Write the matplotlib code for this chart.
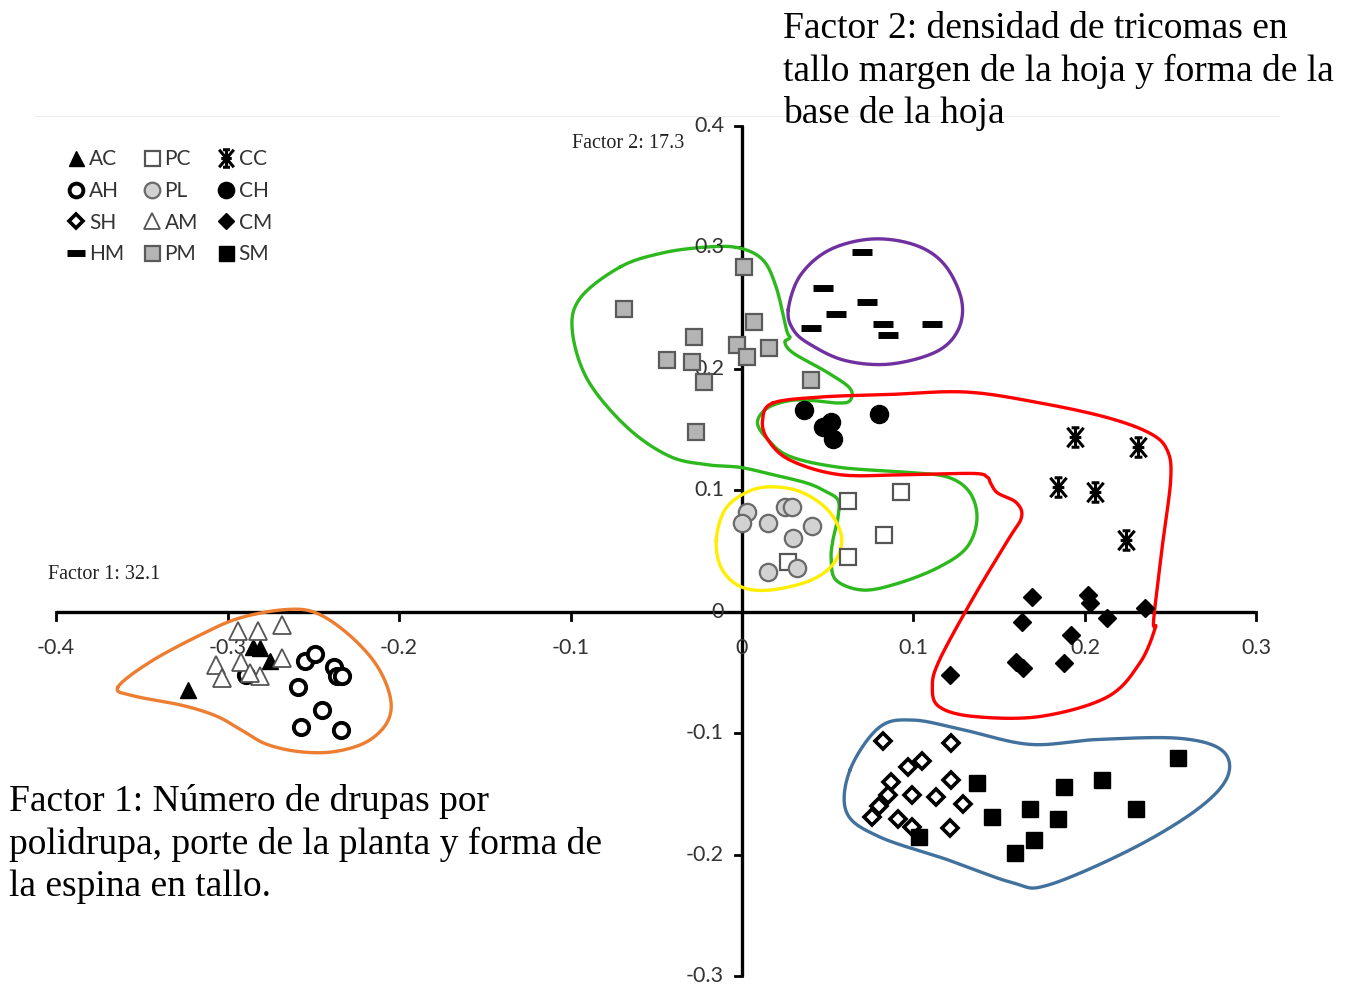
import numpy as np
import matplotlib
matplotlib.use("Agg")
import matplotlib.pyplot as plt
from matplotlib.path import Path
from matplotlib.lines import Line2D

# ---------------- data (factor scores) ----------------
AC_x = [-0.323, -0.285, -0.281, -0.275]
AC_y = [-0.064, -0.029, -0.030, -0.040]
AM_x = [-0.268, -0.294, -0.282, -0.268, -0.307, -0.292, -0.303, -0.281, -0.287]
AM_y = [-0.011, -0.016, -0.016, -0.038, -0.044, -0.041, -0.054, -0.053, -0.050]
AH_x = [-0.289, -0.255, -0.249, -0.238, -0.236, -0.233, -0.259, -0.245, -0.257, -0.234]
AH_y = [-0.052, -0.040, -0.035, -0.045, -0.053, -0.053, -0.062, -0.081, -0.095, -0.097]
PM_x = [-0.069, 0.001, -0.028, -0.044, -0.029, -0.022, -0.027, -0.003, 0.007, 0.003, 0.016, 0.040]
PM_y = [0.249, 0.284, 0.226, 0.207, 0.206, 0.189, 0.148, 0.220, 0.239, 0.210, 0.217, 0.191]
CH_x = [0.036, 0.047, 0.052, 0.053, 0.080]
CH_y = [0.166, 0.152, 0.156, 0.142, 0.163]
HM_x = [0.070, 0.047, 0.073, 0.055, 0.040, 0.082, 0.085, 0.111]
HM_y = [0.296, 0.267, 0.255, 0.245, 0.234, 0.237, 0.228, 0.237]
PL_x = [0.003, 0.000, 0.015, 0.025, 0.029, 0.041, 0.030, 0.015, 0.032]
PL_y = [0.082, 0.073, 0.073, 0.086, 0.086, 0.071, 0.061, 0.033, 0.036]
PC_x = [0.062, 0.093, 0.083, 0.062, 0.027]
PC_y = [0.091, 0.099, 0.063, 0.045, 0.041]
CC_x = [0.194, 0.231, 0.184, 0.206, 0.224]
CC_y = [0.144, 0.136, 0.103, 0.099, 0.059]
CM_x = [0.169, 0.202, 0.203, 0.163, 0.213, 0.235, 0.192, 0.160, 0.164, 0.188, 0.121]
CM_y = [0.012, 0.014, 0.007, -0.008, -0.005, 0.003, -0.019, -0.041, -0.046, -0.042, -0.052]
SH_x = [0.082, 0.122, 0.097, 0.105, 0.087, 0.122, 0.085, 0.099, 0.113, 0.129, 0.080, 0.076, 0.091, 0.099, 0.121]
SH_y = [-0.106, -0.108, -0.128, -0.123, -0.140, -0.138, -0.151, -0.151, -0.152, -0.158, -0.160, -0.169, -0.170, -0.177, -0.178]
SM_x = [0.137, 0.146, 0.168, 0.188, 0.210, 0.254, 0.184, 0.230, 0.170, 0.159, 0.103]
SM_y = [-0.141, -0.169, -0.162, -0.144, -0.138, -0.120, -0.170, -0.162, -0.188, -0.198, -0.185]

x_ticks = [-0.4, -0.3, -0.2, -0.1, 0, 0.1, 0.2, 0.3]
x_tick_labels = ["-0.4", "-0.3", "-0.2", "-0.1", "0", "0.1", "0.2", "0.3"]
y_ticks = [-0.3, -0.2, -0.1, 0, 0.1, 0.2, 0.3, 0.4]
y_tick_labels = ["-0.3", "-0.2", "-0.1", "0", "0.1", "0.2", "0.3", "0.4"]

# group outlines (hand-drawn envelopes in factor space)
orange_x = [-0.364, -0.345, -0.316, -0.293, -0.266, -0.248, -0.229, -0.213, -0.205, -0.207, -0.219, -0.238, -0.258, -0.277, -0.291, -0.306, -0.326, -0.355]
orange_y = [-0.062, -0.041, -0.019, -0.005, 0.002, -0.001, -0.019, -0.044, -0.071, -0.091, -0.107, -0.115, -0.115, -0.109, -0.098, -0.086, -0.077, -0.069]
purple_x = [0.027, 0.034, 0.051, 0.076, 0.101, 0.118, 0.128, 0.126, 0.113, 0.086, 0.060, 0.040, 0.030]
purple_y = [0.249, 0.277, 0.298, 0.307, 0.302, 0.286, 0.257, 0.232, 0.214, 0.204, 0.207, 0.220, 0.232]
yellow_x = [-0.015, -0.010, 0.002, 0.016, 0.034, 0.050, 0.058, 0.054, 0.040, 0.016, -0.001, -0.012]
yellow_y = [0.059, 0.084, 0.098, 0.103, 0.099, 0.084, 0.062, 0.041, 0.026, 0.018, 0.021, 0.036]
green_x = [-0.071, -0.048, -0.024, -0.003, 0.012, 0.020, 0.026, 0.028, 0.025, 0.030, 0.050, 0.063, 0.063, 0.056, 0.041, 0.028, 0.015, 0.009, 0.015, 0.028, 0.057, 0.096, 0.120, 0.133, 0.137, 0.131, 0.115, 0.092, 0.071, 0.055, 0.052, 0.053, 0.056, 0.056, 0.049, 0.038, 0.018, -0.001, -0.019, -0.042, -0.067, -0.090, -0.099, -0.094]
green_y = [0.284, 0.295, 0.300, 0.300, 0.290, 0.267, 0.232, 0.226, 0.222, 0.213, 0.197, 0.184, 0.174, 0.172, 0.174, 0.174, 0.168, 0.156, 0.142, 0.128, 0.119, 0.115, 0.111, 0.098, 0.076, 0.053, 0.037, 0.024, 0.018, 0.026, 0.043, 0.059, 0.078, 0.092, 0.099, 0.106, 0.113, 0.119, 0.121, 0.128, 0.152, 0.191, 0.232, 0.259]
red_x = [0.018, 0.047, 0.086, 0.131, 0.174, 0.213, 0.238, 0.248, 0.250, 0.245, 0.240, 0.241, 0.232, 0.213, 0.174, 0.135, 0.115, 0.111, 0.115, 0.135, 0.155, 0.163, 0.160, 0.149, 0.145, 0.143, 0.135, 0.096, 0.057, 0.028, 0.015, 0.012]
red_y = [0.172, 0.177, 0.179, 0.181, 0.172, 0.160, 0.147, 0.133, 0.109, 0.053, -0.007, -0.013, -0.042, -0.070, -0.086, -0.086, -0.078, -0.062, -0.040, 0.012, 0.059, 0.078, 0.090, 0.098, 0.106, 0.111, 0.114, 0.113, 0.113, 0.125, 0.142, 0.158]
blue_x = [0.063, 0.080, 0.100, 0.129, 0.168, 0.207, 0.255, 0.280, 0.283, 0.265, 0.226, 0.178, 0.158, 0.120, 0.080, 0.061]
blue_y = [-0.130, -0.095, -0.089, -0.097, -0.109, -0.105, -0.104, -0.114, -0.136, -0.163, -0.196, -0.225, -0.223, -0.204, -0.185, -0.165]

# ---------------- helpers ----------------
def closed_spline(xs, ys, n=24):
    P = np.column_stack([xs, ys]).astype(float)
    m = len(P)
    out = []
    t = np.linspace(0, 1, n, endpoint=False)[:, None]
    for i in range(m):
        p0, p1, p2, p3 = P[(i - 1) % m], P[i], P[(i + 1) % m], P[(i + 2) % m]
        seg = 0.5 * ((2 * p1) + (-p0 + p2) * t + (2 * p0 - 5 * p1 + 4 * p2 - p3) * t ** 2
                     + (-p0 + 3 * p1 - 3 * p2 + p3) * t ** 3)
        out.append(seg)
    out = np.vstack(out + [P[:1]])
    return out[:, 0], out[:, 1]

cc_marker = Path(
    [(-0.42, 0.5), (0.42, -0.5), (-0.42, -0.5), (0.42, 0.5), (0, 0.5), (0, -0.5),
     (-0.2, 0.5), (0.2, 0.5), (-0.2, -0.5), (0.2, -0.5), (-0.3, 0), (0.3, 0)],
    [Path.MOVETO, Path.LINETO] * 6)

W, H = 1347, 992
fig = plt.figure(figsize=(W / 100, H / 100), dpi=100)
ax = fig.add_axes([0, 0, 1, 1])
ax.set_xlim(-0.4327, 0.3528)
ax.set_ylim(-0.3128, 0.5037)
ax.axis("off")

# faint frame line at top
ax.plot([-0.412, 0.313], [0.408, 0.408], color="#eeeeee", lw=0.8, zorder=0)

# axes through the origin
ax.plot([x_ticks[0], x_ticks[-1]], [0, 0], color="black", lw=2.4, zorder=1, solid_capstyle="butt")
ax.plot([0, 0], [y_ticks[0], y_ticks[-1]], color="black", lw=2.4, zorder=1, solid_capstyle="butt")
for xt, lab in zip(x_ticks, x_tick_labels):
    ax.plot([xt, xt], [0, -0.0065], color="black", lw=2.0, zorder=1)
    ax.text(xt, -0.0296, lab, ha="center", va="center", fontsize=15.5,
            family="Lato", color="#333333")
for yt, lab in zip(y_ticks, y_tick_labels):
    ax.plot([-0.004, 0], [yt, yt], color="black", lw=2.0, zorder=1)
    ax.text(-0.0105, yt, lab, ha="right", va="center", fontsize=15.5,
            family="Lato", color="#333333")

# outlines
hull_style = dict(lw=2.4, zorder=2)
for xs, ys, col in [(orange_x, orange_y, "#ED7D31"), (purple_x, purple_y, "#7030A0"),
                    (green_x, green_y, "#2DB81E"), (red_x, red_y, "#FF0000"),
                    (yellow_x, yellow_y, "#FFEE00"), (blue_x, blue_y, "#41719C")]:
    sx, sy = closed_spline(xs, ys)
    ax.plot(sx, sy, color=col, **hull_style)

# point groups
groups = {
    "AC": (AC_x, AC_y, dict(marker="^", ms=12, mfc="black", mec="black", mew=1)),
    "AH": (AH_x, AH_y, dict(marker="o", ms=11, mfc="white", mec="black", mew=2.8)),
    "SH": (SH_x, SH_y, dict(marker="D", ms=8.2, mfc="white", mec="black", mew=2.6)),
    "HM": (HM_x, HM_y, dict(marker="_", ms=15, mec="black", mew=5)),
    "PC": (PC_x, PC_y, dict(marker="s", ms=12, mfc="white", mec="#555555", mew=1.6)),
    "PL": (PL_x, PL_y, dict(marker="o", ms=12.5, mfc="#d2d2d2", mec="#6a6a6a", mew=1.6)),
    "AM": (AM_x, AM_y, dict(marker="^", ms=13, mfc="white", mec="#555555", mew=1.3)),
    "PM": (PM_x, PM_y, dict(marker="s", ms=12, mfc="#b4b4b4", mec="#5a5a5a", mew=1.6)),
    "CC": (CC_x, CC_y, dict(marker=cc_marker, ms=14, mec="black", mew=2.2)),
    "CH": (CH_x, CH_y, dict(marker="o", ms=13, mfc="black", mec="black", mew=1)),
    "CM": (CM_x, CM_y, dict(marker="D", ms=9, mfc="black", mec="black", mew=1)),
    "SM": (SM_x, SM_y, dict(marker="s", ms=12, mfc="black", mec="black", mew=1)),
}
handles = []
for name, (xs, ys, st) in groups.items():
    ax.plot(xs, ys, ls="none", zorder=3, **st)
    lst = dict(st)
    lst["ms"] = st["ms"] * 0.9
    handles.append(Line2D([], [], ls="none", label=name, **lst))

leg = ax.legend(handles=handles, ncol=3, loc="upper left", bbox_to_anchor=(0.042, 0.860),
                frameon=False, handlelength=0.9, handletextpad=0.15,
                columnspacing=0.9, labelspacing=0.56, borderpad=0,
                prop={"family": "Lato", "size": 15})
for t in leg.get_texts():
    t.set_color("#333333")

# factor annotations
ax.text(-0.405, 0.0305, "Factor 1: 32.1", fontsize=14.5, family="Liberation Serif",
        color="#222222", ha="left", va="center")
ax.text(-0.0994, 0.3853, "Factor 2: 17.3", fontsize=14.5, family="Liberation Serif",
        color="#222222", ha="left", va="center")

fig.text(783 / W, 1 - 11 / H,
         "Factor 2: densidad de tricomas en\ntallo margen de la hoja y forma de la\nbase de la hoja",
         fontsize=27, family="Liberation Serif", ha="left", va="top", linespacing=1.29)
fig.text(9 / W, 1 - 784 / H,
         "Factor 1: Número de drupas por\npolidrupa, porte de la planta y forma de\nla espina en tallo.",
         fontsize=27, family="Liberation Serif", ha="left", va="top", linespacing=1.29)

fig.savefig("out.png", dpi=100)
